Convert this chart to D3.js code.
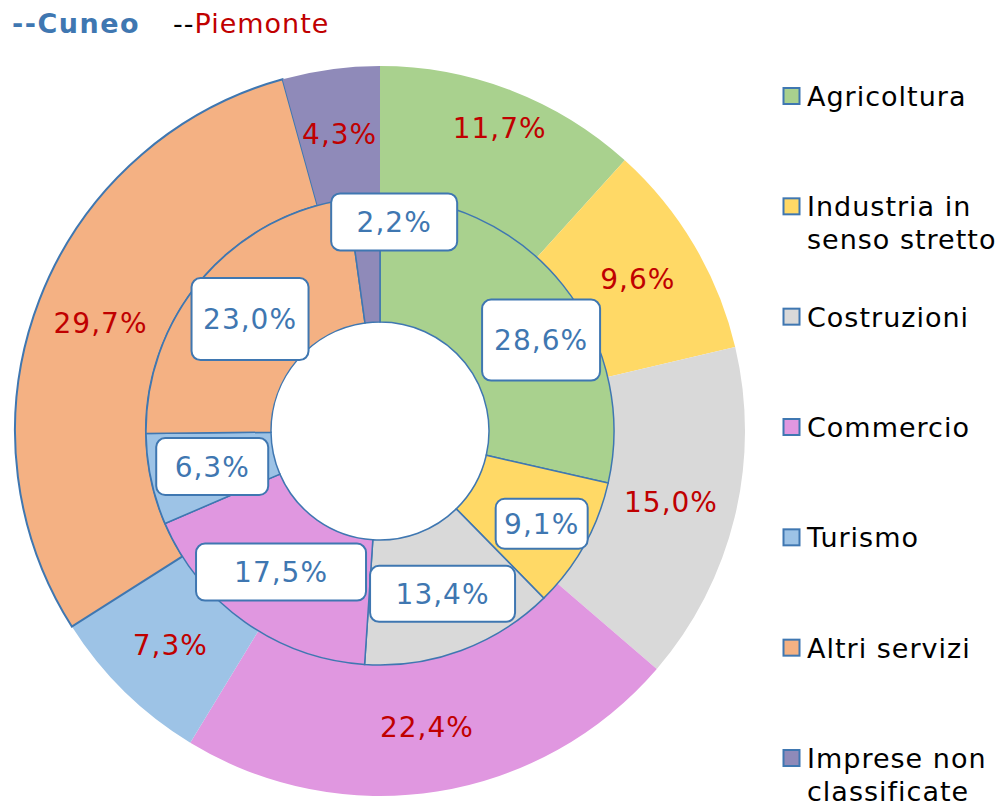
<!DOCTYPE html>
<html>
<head>
<meta charset="utf-8">
<script src="https://cdn.jsdelivr.net/npm/d3@7"></script>
<style>
  body { margin: 0; background: #fff; }
  text { font-family: Verdana, "DejaVu Sans", sans-serif; }
</style>
</head>
<body>
<svg id="chart" width="1002" height="804"></svg>
<script>
// data
const sectors = ["Agricoltura", "Industria in senso stretto", "Costruzioni", "Commercio",
  "Turismo", "Altri servizi", "Imprese non classificate"];
const legendLines = [["Agricoltura"], ["Industria in", "senso stretto"], ["Costruzioni"], ["Commercio"],
  ["Turismo"], ["Altri servizi"], ["Imprese non", "classificate"]];
const cuneo = [28.6, 9.1, 13.4, 17.5, 6.3, 23.0, 2.2];      // inner ring
const piemonte = [11.7, 9.6, 15.0, 22.4, 7.3, 29.7, 4.3];  // outer ring

const colors = ["#a9d18e", "#ffd966", "#d9d9d9", "#e097e0", "#9dc3e6", "#f4b183", "#8f8ab9"];
const blue = "#3f77b1";
const red = "#c00000";

// label nudges (moved by hand in the original) and box sizes
const innerNudge = [[27, 16], [12, 9], [3, 2], [0, 1], [0, 0], [0, 0], [26, -38]];
const innerBox = [[118, 81], [92, 50], [145, 56], [170, 57], [112, 57], [117, 82], [126, 57]];
const outerNudge = [[12, -24], [0, 0], [0, 0], [0, 0], [0, 0], [0, 0], [0, 0]];

const fmt = v => d3.format(".1f")(v).replace(".", ",") + "%";

const svg = d3.select("#chart");
const cx = 380, cy = 431;
const rHole = 109, rMid = 234, rOuter = 365;

const pie = d3.pie().sort(null).value(d => d);
const outerArc = d3.arc().innerRadius(rMid).outerRadius(rOuter);
const innerArc = d3.arc().innerRadius(rHole).outerRadius(rMid);

const g = svg.append("g").attr("transform", `translate(${cx},${cy})`);

// outer ring (Piemonte)
g.selectAll("path.outer")
  .data(pie(piemonte))
  .join("path")
    .attr("class", "outer")
    .attr("d", outerArc)
    .attr("fill", (d, i) => colors[i])
    .attr("stroke", (d, i) => i === 5 ? blue : "none")
    .attr("stroke-width", 2);

// inner ring (Cuneo)
g.selectAll("path.inner")
  .data(pie(cuneo))
  .join("path")
    .attr("class", "inner")
    .attr("d", innerArc)
    .attr("fill", (d, i) => colors[i])
    .attr("stroke", blue)
    .attr("stroke-width", 1.5);

// outer labels
g.selectAll("text.outerLabel")
  .data(pie(piemonte))
  .join("text")
    .attr("class", "outerLabel")
    .attr("x", (d, i) => outerArc.centroid(d)[0] + outerNudge[i][0])
    .attr("y", (d, i) => outerArc.centroid(d)[1] + outerNudge[i][1])
    .attr("dy", "0.36em")
    .attr("text-anchor", "middle")
    .attr("font-size", 28)
    .attr("letter-spacing", 1)
    .attr("fill", red)
    .text(d => fmt(d.data));

// inner labels in boxes
const lab = g.selectAll("g.innerLabel")
  .data(pie(cuneo))
  .join("g")
    .attr("class", "innerLabel")
    .attr("transform", (d, i) => {
      const c = innerArc.centroid(d);
      return `translate(${c[0] + innerNudge[i][0]},${c[1] + innerNudge[i][1]})`;
    });

lab.append("rect")
  .attr("x", (d, i) => -innerBox[i][0] / 2)
  .attr("y", (d, i) => -innerBox[i][1] / 2)
  .attr("width", (d, i) => innerBox[i][0])
  .attr("height", (d, i) => innerBox[i][1])
  .attr("rx", 9)
  .attr("fill", "#fff")
  .attr("stroke", blue)
  .attr("stroke-width", 2);

lab.append("text")
  .attr("dy", "0.36em")
  .attr("text-anchor", "middle")
  .attr("font-size", 28)
  .attr("letter-spacing", 1)
  .attr("fill", blue)
  .text(d => fmt(d.data));

// title
svg.append("text")
  .attr("x", 12).attr("y", 33)
  .attr("font-size", 27)
  .attr("font-weight", "bold")
  .attr("letter-spacing", 1.5)
  .attr("fill", blue)
  .text("--Cuneo");

const t2 = svg.append("text")
  .attr("x", 173).attr("y", 33)
  .attr("font-size", 27)
  .attr("letter-spacing", 1);
t2.append("tspan").attr("fill", "#000").text("--");
t2.append("tspan").attr("fill", red).text("Piemonte");

// legend
const legY = d3.scaleLinear().domain([0, 6]).range([96, 758]);
const leg = svg.selectAll("g.legend")
  .data(sectors)
  .join("g")
    .attr("class", "legend")
    .attr("transform", (d, i) => `translate(783,${legY(i)})`);

leg.append("rect")
  .attr("x", 0.5)
  .attr("y", -8)
  .attr("width", 16)
  .attr("height", 16)
  .attr("fill", (d, i) => colors[i])
  .attr("stroke", blue)
  .attr("stroke-width", 2);

leg.append("text")
  .attr("x", 24)
  .attr("y", 10)
  .attr("font-size", 27)
  .attr("letter-spacing", 1)
  .attr("fill", "#000")
  .selectAll("tspan")
  .data((d, i) => legendLines[i])
  .join("tspan")
    .attr("x", 24)
    .attr("dy", (d, j) => j ? 33 : 0)
    .text(d => d);
</script>
</body>
</html>
